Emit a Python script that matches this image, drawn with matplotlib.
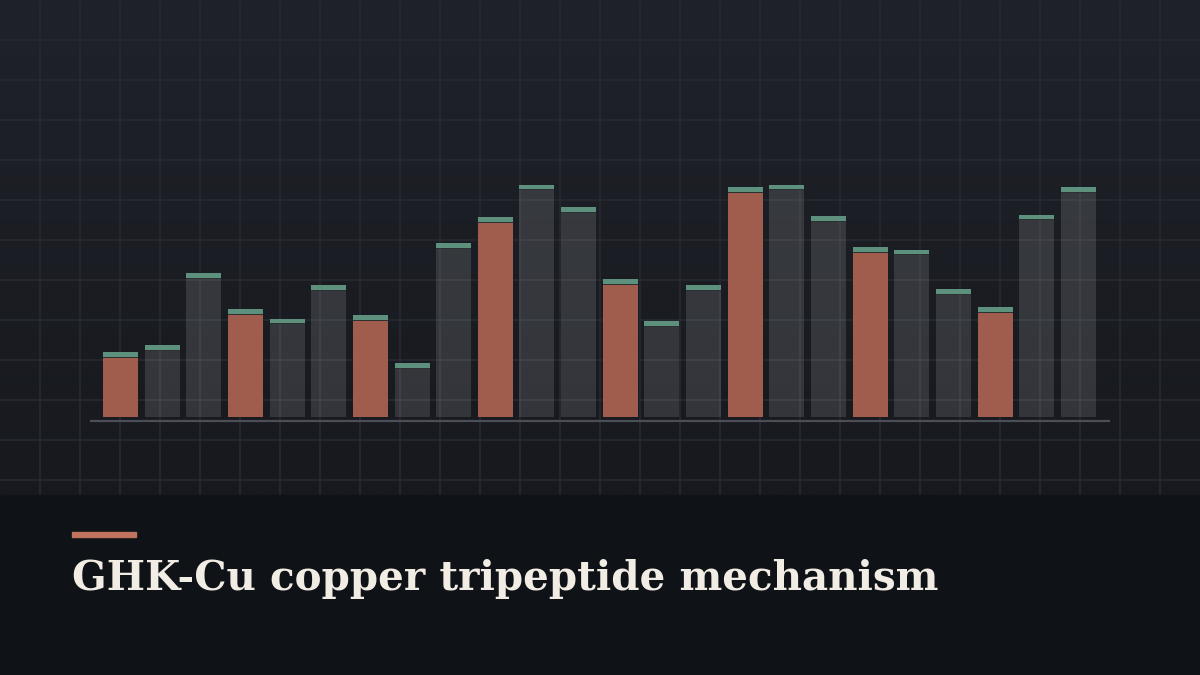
import numpy as np
import matplotlib
matplotlib.use("Agg")
import matplotlib.pyplot as plt

# bar values (arbitrary units, 0-100), every third bar is highlighted
values = [27, 30, 60, 45, 41, 55, 42.5, 22.5, 72.5, 83.3, 96.7, 87.5,
          57.5, 40, 55, 95.8, 96.7, 83.7, 70.8, 69.6, 53.3, 45.8, 84.2, 95.8]
highlight = [i % 3 == 0 for i in range(len(values))]
title = "GHK-Cu copper tripeptide mechanism"

W, H = 1200, 675
fig = plt.figure(figsize=(W / 100, H / 100), dpi=100)

# background in pixel coordinates
bg = fig.add_axes([0, 0, 1, 1])
bg.set_xlim(0, W)
bg.set_ylim(H, 0)
bg.axis("off")
grad = np.linspace(0, 1, 256).reshape(-1, 1)
top_c = np.array([0x1f, 0x22, 0x29]) / 255
bot_c = np.array([0x17, 0x19, 0x1e]) / 255
img = top_c + (bot_c - top_c) * grad[..., None]
bg.imshow(img, extent=[0, W, 495, 0], aspect="auto", zorder=0)
for gx in range(40, W, 40):
    bg.plot([gx, gx], [0, 495], color="#24272e", lw=1.5, zorder=1)
for gy in range(40, 495, 40):
    bg.plot([0, W], [gy, gy], color="#24272e", lw=1.5, zorder=1)
bg.add_patch(plt.Rectangle((0, 495), W, H - 495, color="#0f1216", zorder=2))
bg.add_patch(plt.Rectangle((72, 532), 64, 4.5, color="#c0735e", zorder=3))

# title, scaled to span the reference width
t = bg.text(72, 590, title, family="DejaVu Serif", weight="bold",
            fontsize=28, color="#f1ece4", va="baseline", ha="left", zorder=4)
fig.canvas.draw()
w = t.get_window_extent().width
t.set_fontsize(28 * 868 / w)

# bar chart
px_per_unit = 2.4
y0 = -8 / px_per_unit
ax = fig.add_axes([90 / W, (H - 425) / H, 1020 / W, 248 / H])
ax.patch.set_alpha(0)
ax.axis("off")
ax.set_xlim(-0.732, 23.76)
ax.set_ylim(y0, 100)

x = np.arange(len(values))
cap = 4.5 / px_per_unit
body_colors = ["#a05c4c" if h else (1, 1, 1, 0.12) for h in highlight]
ax.bar(x, values, width=0.84, color=body_colors, zorder=2)
ax.bar(x, [1 / px_per_unit] * len(values), bottom=np.array(values) - cap - 1 / px_per_unit,
       width=0.84, color="#2c3232", zorder=3)
ax.bar(x, [cap] * len(values), bottom=np.array(values) - cap,
       width=0.84, color="#5e917d", zorder=4)
ax.axhline(-4 / px_per_unit, color="#4b4e56", lw=1.6, zorder=1)

fig.savefig("out.png", dpi=100)
